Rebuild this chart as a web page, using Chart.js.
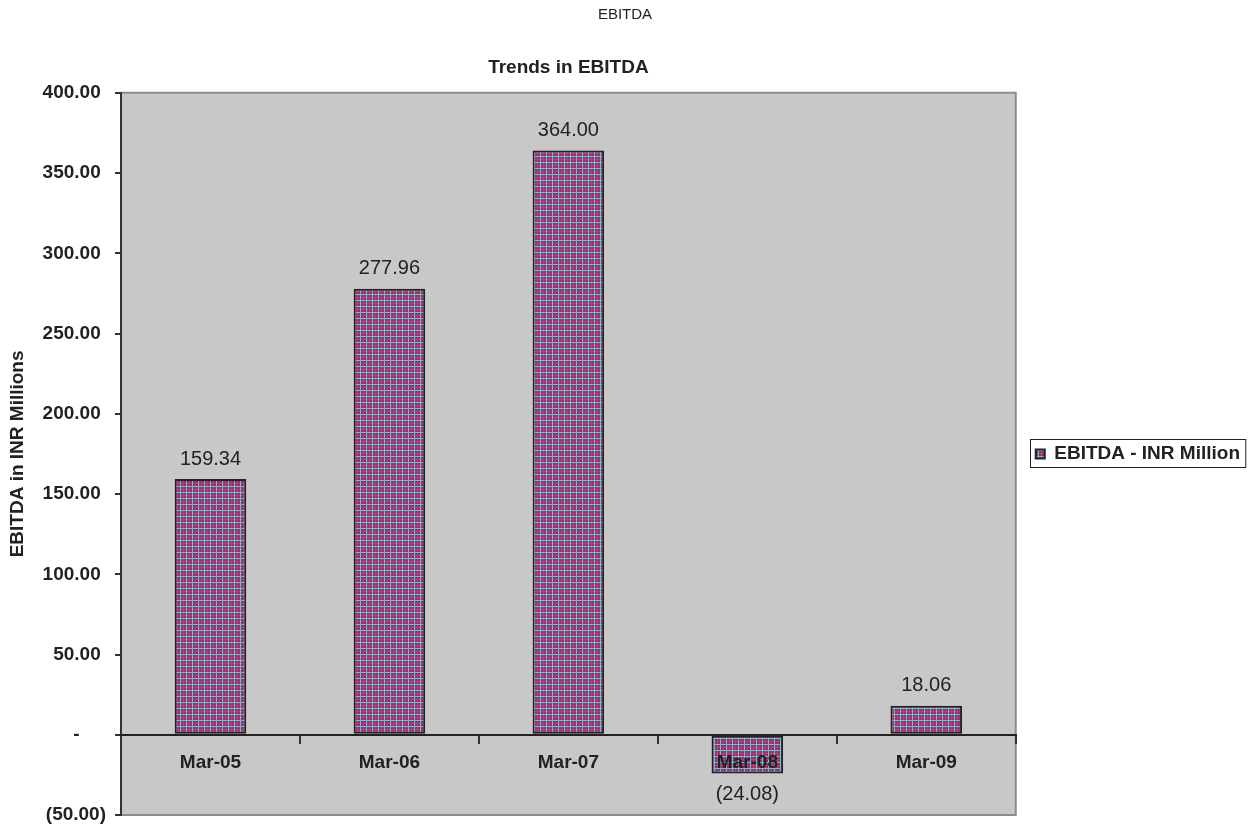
<!DOCTYPE html>
<html>
<head>
<meta charset="utf-8">
<script src="https://cdn.jsdelivr.net/npm/chart.js@4.4.1/dist/chart.umd.min.js"></script>
<style>
  html, body { margin: 0; padding: 0; background: #fff; overflow: hidden; }
  #wrap { width: 1249px; height: 828px; }
</style>
</head>
<body>
<div id="wrap"><canvas id="c" width="1249" height="828"></canvas></div>
<script>
// chart data
var categories = ['Mar-05', 'Mar-06', 'Mar-07', 'Mar-08', 'Mar-09'];
var ebitda = [159.34, 277.96, 364.00, -24.08, 18.06];
var seriesName = 'EBITDA - INR Million';
var yMin = -50;
var yMax = 400;
var yStep = 50;

var FONT = '"Liberation Sans", Arial, sans-serif';
Chart.defaults.font.family = FONT;
Chart.defaults.color = '#222';

function fmtValue(v) {
    var s = Math.abs(v).toFixed(2);
    return v < 0 ? '(' + s + ')' : s;
}

// excel accounting style tick labels
function fmtTick(v) {
    if (v === 0) return '-     ';
    if (v < 0) return '(' + Math.abs(v).toFixed(2) + ')';
    return v.toFixed(2) + ' ';
}

function makePattern() {
    var p = document.createElement('canvas');
    p.width = 6;
    p.height = 6;
    var g = p.getContext('2d');
    g.fillStyle = '#9c2a6a';
    g.fillRect(0, 0, 6, 6);
    g.fillStyle = '#a9457c';
    g.fillRect(3, 0, 1, 6);
    g.fillRect(0, 3, 6, 1);
    g.fillStyle = '#5ec6d0';
    g.fillRect(0, 0, 1, 6);
    g.fillRect(0, 0, 6, 1);
    return g.createPattern(p, 'repeat');
}

var plotArea = {
    id: 'plotArea',
    beforeDraw: function (chart) {
        var a = chart.chartArea, ctx = chart.ctx;
        ctx.save();
        ctx.fillStyle = '#c8c8c8';
        ctx.fillRect(a.left, a.top, a.right - a.left, a.bottom - a.top);
        ctx.strokeStyle = '#8c8c8c';
        ctx.lineWidth = 2;
        ctx.beginPath();
        ctx.moveTo(a.left, a.top);
        ctx.lineTo(a.right, a.top);
        ctx.lineTo(a.right, a.bottom);
        ctx.lineTo(a.left, a.bottom);
        ctx.stroke();
        ctx.restore();
    }
};

var valueLabels = {
    id: 'valueLabels',
    afterDatasetsDraw: function (chart) {
        var ctx = chart.ctx;
        var meta = chart.getDatasetMeta(0);
        ctx.save();
        ctx.font = '20px ' + FONT;
        ctx.fillStyle = '#222';
        ctx.textAlign = 'center';
        ctx.textBaseline = 'middle';
        meta.data.forEach(function (bar, i) {
            var v = ebitda[i];
            var y = v >= 0 ? bar.y - 20 : bar.y + 21;
            ctx.fillText(fmtValue(v), bar.x, y);
        });
        ctx.restore();
    }
};

var legendBorder = {
    id: 'legendBorder',
    afterDraw: function (chart) {
        var hb = chart.legend.legendHitBoxes[0];
        if (!hb) return;
        var ctx = chart.ctx;
        ctx.save();
        ctx.strokeStyle = '#222';
        ctx.lineWidth = 1;
        ctx.strokeRect(Math.round(hb.left) - 5.5, Math.round(hb.top) - 4.5, hb.width + 11, hb.height + 9);
        ctx.restore();
    }
};

new Chart(document.getElementById('c'), {
    type: 'bar',
    data: {
        labels: categories,
        datasets: [{
            label: seriesName,
            data: ebitda,
            backgroundColor: makePattern(),
            borderColor: '#222',
            borderWidth: 2,
            borderSkipped: false,
            barPercentage: 0.4,
            categoryPercentage: 1
        }]
    },
    options: {
        responsive: false,
        animation: false,
        devicePixelRatio: 1,
        layout: { padding: { left: 0, right: -1, top: 0, bottom: 0 } },
        plugins: {
            title: {
                display: true,
                text: 'EBITDA',
                color: '#222',
                font: { size: 15, weight: 'normal' },
                padding: { top: 6, bottom: 32 }
            },
            subtitle: {
                display: true,
                text: 'Trends in EBITDA',
                fullSize: false,
                color: '#222',
                font: { size: 19, weight: 'bold' },
                padding: { top: 0, bottom: 14 }
            },
            legend: {
                position: 'right',
                fullSize: false,
                labels: {
                    boxWidth: 9,
                    boxHeight: 9,
                    color: '#222',
                    font: { size: 19, weight: 'bold' },
                    padding: 20
                }
            },
            tooltip: { enabled: false }
        },
        scales: {
            x: {
                position: { y: 0 },
                offset: true,
                grid: {
                    display: true,
                    drawOnChartArea: false,
                    offset: true,
                    tickLength: 8,
                    color: '#333',
                    lineWidth: 2,
                    z: 1
                },
                border: { color: '#222', width: 2, z: 1 },
                ticks: {
                    color: '#222',
                    font: { size: 19, weight: 'bold' },
                    padding: 9,
                    z: 1
                }
            },
            y: {
                min: yMin,
                max: yMax,
                ticks: {
                    stepSize: yStep,
                    callback: fmtTick,
                    color: '#222',
                    font: { size: 19, weight: 'bold' },
                    padding: 9
                },
                grid: {
                    drawOnChartArea: false,
                    tickLength: 6,
                    color: '#333',
                    lineWidth: 2
                },
                border: { color: '#333', width: 2 },
                title: {
                    display: true,
                    text: 'EBITDA in INR Millions',
                    color: '#222',
                    font: { size: 19, weight: 'bold' },
                    padding: { top: 6, bottom: 0 }
                },
                afterFit: function (s) {
                    s.width = 121;
                    s.paddingTop = 0;
                    s.paddingBottom = 13;
                }
            }
        }
    },
    plugins: [plotArea, valueLabels, legendBorder]
});
</script>
</body>
</html>
